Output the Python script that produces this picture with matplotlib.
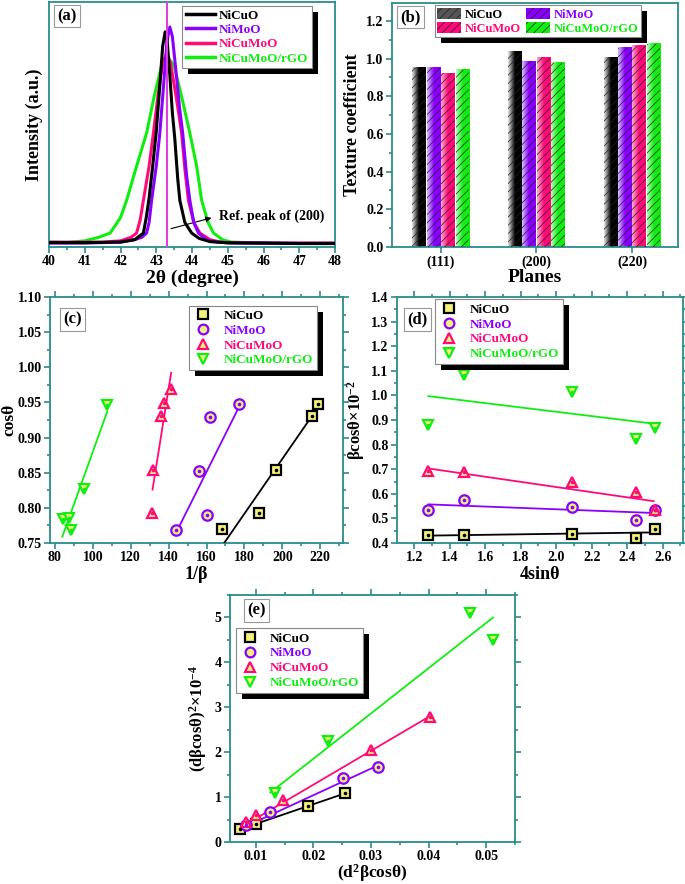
import numpy as np
import matplotlib
matplotlib.use("Agg")
import matplotlib.pyplot as plt
from matplotlib.patches import Rectangle, Patch
from matplotlib.lines import Line2D
from matplotlib.colors import LinearSegmentedColormap
from matplotlib.ticker import MultipleLocator

plt.rcParams['font.family'] = ['Liberation Serif', 'DejaVu Serif']
plt.rcParams['font.weight'] = 'bold'
plt.rcParams['axes.labelweight'] = 'bold'
plt.rcParams['mathtext.fontset'] = 'custom'
plt.rcParams['mathtext.rm'] = 'Liberation Serif:bold'
plt.rcParams['mathtext.it'] = 'Liberation Serif:bold'
plt.rcParams['mathtext.bf'] = 'Liberation Serif:bold'
plt.rcParams['hatch.linewidth'] = 0.5

# ---------------- data ----------------
names = ["NiCuO", "NiMoO", "NiCuMoO", "NiCuMoO/rGO"]
colors = ["#000000", "#8a00ff", "#ff0a78", "#10ee10"]
light_colors = ["#e8e8e8", "#d8c0ff", "#ffb0d0", "#b8ffb8"]

# (a) XRD (200) peak profiles (normalised intensity)
a_x_nicuo = [40.0, 41.0, 42.0, 42.4, 42.64, 42.72, 42.8, 42.9, 43.0, 43.1, 43.18, 43.25, 43.3, 43.38,
             43.45, 43.52, 43.6, 43.66, 43.8, 43.99, 44.2, 44.5, 45.0, 46.0, 47.0, 48.0]
a_y_nicuo = [0.018, 0.018, 0.02, 0.03, 0.057, 0.12, 0.2, 0.33, 0.47, 0.66, 0.82, 0.878, 0.85, 0.70,
             0.55, 0.44, 0.28, 0.19, 0.10, 0.057, 0.035, 0.022, 0.017, 0.016, 0.014, 0.014]
a_x_nimoo = [40.0, 41.0, 42.0, 42.4, 42.6, 42.73, 42.8, 42.87, 43.0, 43.1, 43.2, 43.3, 43.38, 43.45,
             43.55, 43.65, 43.74, 43.85, 43.94, 44.05, 44.18, 44.4, 44.7, 45.0, 46.0, 47.0, 48.0]
a_y_nimoo = [0.016, 0.016, 0.02, 0.03, 0.04, 0.057, 0.10, 0.19, 0.33, 0.465, 0.65, 0.84, 0.898, 0.86,
             0.72, 0.57, 0.465, 0.29, 0.19, 0.10, 0.057, 0.03, 0.02, 0.017, 0.016, 0.015, 0.015]
a_x_nicumoo = [40.0, 41.0, 41.5, 42.0, 42.3, 42.45, 42.55, 42.64, 42.8, 42.92, 43.05, 43.18, 43.29,
               43.4, 43.55, 43.71, 43.8, 43.9, 44.05, 44.22, 44.5, 44.8, 45.2, 46.0, 47.0, 48.0]
a_y_nicumoo = [0.02, 0.02, 0.02, 0.025, 0.04, 0.057, 0.11, 0.19, 0.33, 0.465, 0.62, 0.75, 0.79,
               0.75, 0.62, 0.465, 0.32, 0.19, 0.10, 0.057, 0.03, 0.02, 0.017, 0.016, 0.016, 0.016]
a_x_rgo = [40.0, 40.5, 41.0, 41.4, 41.71, 42.0, 42.17, 42.45, 42.73, 42.95, 43.15, 43.32, 43.5,
           43.7, 43.94, 44.13, 44.27, 44.45, 44.6, 44.85, 45.1, 46.0, 47.0, 48.0]
a_y_rgo = [0.02, 0.018, 0.025, 0.04, 0.057, 0.12, 0.19, 0.33, 0.465, 0.62, 0.74, 0.776, 0.74,
           0.62, 0.465, 0.33, 0.19, 0.10, 0.057, 0.03, 0.02, 0.016, 0.015, 0.016]
ref_peak = 43.3

# (b) texture coefficients
planes = ["(111)", "(200)", "(220)"]
tc_nicuo = [0.952, 1.035, 1.007]
tc_nimoo = [0.952, 0.987, 1.057]
tc_nicumoo = [0.922, 1.007, 1.067]
tc_rgo = [0.942, 0.977, 1.080]

# (c) cos(theta) vs 1/beta
c_x = [[168, 187.5, 196.5, 215.5, 219], [144, 160, 156, 162, 177],
       [131, 132, 136, 137.5, 141], [84, 87.5, 88.5, 95.5, 107.5]]
c_y = [[0.770, 0.792, 0.854, 0.930, 0.948], [0.769, 0.790, 0.853, 0.929, 0.948],
       [0.792, 0.854, 0.930, 0.949, 0.969], [0.784, 0.786, 0.769, 0.827, 0.947]]
c_fit_x = [[169.3, 218.0], [145.1, 177.4], [131.5, 141.3], [83.9, 107.6]]
c_fit_y = [[0.750, 0.940], [0.771, 0.945], [0.826, 0.992], [0.759, 0.937]]

# (d) beta cos(theta) vs 4 sin(theta)
d_x = [1.28, 1.48, 2.09, 2.45, 2.555]
d_y = [[0.432, 0.432, 0.435, 0.422, 0.458], [0.535, 0.573, 0.548, 0.495, 0.535],
       [0.693, 0.688, 0.650, 0.607, 0.535], [0.878, 1.082, 1.013, 0.823, 0.868]]
d_fit_x = [1.28, 2.55]
d_fit_y = [[0.430, 0.443], [0.557, 0.522], [0.703, 0.570], [0.997, 0.885]]

# (e) size-strain plot
e_x = [[0.0072, 0.0100, 0.0191, 0.0254], [0.0083, 0.0124, 0.0252, 0.0312],
       [0.0083, 0.0100, 0.0147, 0.0300, 0.0402], [0.0133, 0.0225, 0.0472, 0.0512]]
e_y = [[0.30, 0.41, 0.81, 1.10], [0.37, 0.665, 1.435, 1.66],
       [0.44, 0.60, 0.93, 2.05, 2.78], [1.08, 2.24, 5.11, 4.50]]
e_fit_x = [[0.0072, 0.0254], [0.0076, 0.0311], [0.0073, 0.0402], [0.0125, 0.0512]]
e_fit_y = [[0.28, 1.08], [0.31, 1.70], [0.32, 2.80], [1.10, 5.00]]

# ---------------- style helpers ----------------
TEAL = "#2a8c8c"
MFACE = "#f2f27a"
markers = ["s", "o", "^", "v"]

W, H = 685, 884
fig = plt.figure(figsize=(W / 100, H / 100), dpi=100)


def ax_px(l, r, t, b):
    return fig.add_axes([l / W, 1 - b / H, (r - l) / W, (b - t) / H])


def style(ax, top_right=False):
    for s in ax.spines.values():
        s.set_color(TEAL)
        s.set_linewidth(1.3)
    ax.tick_params(which='both', direction='out', color=TEAL, width=1.2,
                   labelsize=10, pad=2)
    ax.tick_params(which='major', length=4)
    ax.tick_params(which='minor', length=2.5)
    if top_right:
        ax.tick_params(which='both', right=True, top=True)
    for lab in ax.get_xticklabels() + ax.get_yticklabels():
        lab.set_fontweight('bold')


def panel_label(ax, txt, x=0.03, y=0.955):
    ax.text(x, y, txt, transform=ax.transAxes, fontsize=12, fontweight='bold',
            va='top', ha='left', zorder=6,
            bbox=dict(boxstyle='square,pad=0.2', fc='white', ec='#999999', lw=0.8))


legends = []


def make_legend(ax, handles, labels, size=9.5, **kw):
    leg = ax.legend(handles, labels, frameon=True, fancybox=False, framealpha=1,
                    edgecolor='#888888', prop=dict(weight='bold', size=size), **kw)
    leg.get_frame().set_linewidth(0.8)
    for t, c in zip(leg.get_texts(), colors):
        t.set_color(c)
    leg.set_zorder(8)
    legends.append((ax, leg))
    return leg


def mark_handle(i):
    return Line2D([], [], ls='none', marker=markers[i], ms=7, mfc=MFACE, mec=colors[i], mew=1.6)


def scatter_series(ax, x, y, i):
    ax.plot(x, y, ls='none', marker=markers[i], ms=7.5, mfc=MFACE, mec=colors[i],
            mew=1.6, zorder=4, clip_on=False)
    ax.plot(x, y, ls='none', marker='o', ms=1.6, color=colors[i], zorder=5, clip_on=False)


# ---------------- (a) ----------------
axa = ax_px(49, 335, 2, 247)
a_xs = [a_x_nicuo, a_x_nimoo, a_x_nicumoo, a_x_rgo]
a_ys = [a_y_nicuo, a_y_nimoo, a_y_nicumoo, a_y_rgo]
order = [3, 2, 1, 0]
for i in order:
    axa.plot(a_xs[i], a_ys[i], color=colors[i], lw=2.2, zorder=3 + (3 - i) * 0.1,
             solid_joinstyle='round')
axa.axvline(ref_peak, color="#e040e0", lw=1.5, zorder=4)
axa.set_xlim(40, 48)
axa.set_ylim(0, 1)
axa.xaxis.set_major_locator(MultipleLocator(1))
axa.xaxis.set_minor_locator(MultipleLocator(0.5))
axa.set_yticks([])
style(axa)
axa.set_xlabel("2θ (degree)", fontsize=14, labelpad=1)
axa.set_ylabel("Intensity (a.u.)", fontsize=13, labelpad=4)
axa.annotate("Ref. peak of (200)", xy=(44.62, 0.122), xytext=(44.75, 0.124),
             fontsize=10, fontweight='bold', va='center', ha='left')
axa.annotate("", xy=(44.62, 0.122), xytext=(43.34, 0.072),
             arrowprops=dict(arrowstyle='-|>', color='black', lw=0.8, mutation_scale=8))
panel_label(axa, "(a)", x=0.03, y=0.975)
make_legend(axa, [Line2D([], [], color=colors[i], lw=2.5) for i in range(4)], names,
            loc='upper right', bbox_to_anchor=(0.92, 0.985), borderaxespad=0,
            handlelength=2.2, handletextpad=0.3, labelspacing=0.15, borderpad=0.3)

# ---------------- (b) ----------------
axb = ax_px(392, 678, 3, 247)
tcs = [tc_nicuo, tc_nimoo, tc_nicumoo, tc_rgo]
xpos = np.arange(len(planes))
bw = 0.142
step = 0.15
grad = np.linspace(0, 1, 64).reshape(1, -1)
for i in range(4):
    cmap = LinearSegmentedColormap.from_list("g%d" % i, [light_colors[i], colors[i], colors[i]])
    for j, h in enumerate(tcs[i]):
        x0 = xpos[j] + (i - 1.5) * step - bw / 2
        axb.imshow(grad, extent=(x0, x0 + bw, 0, h), aspect='auto', cmap=cmap,
                   interpolation='bilinear', zorder=2)
        rect = Rectangle((x0, 0), bw, h, fc='none', ec='#222222', lw=0, hatch='////', zorder=3)
        axb.add_patch(rect)
axb.set_xlim(-0.51, 2.48)
axb.set_ylim(0, 1.295)
axb.set_xticks(xpos)
axb.set_xticklabels(planes)
axb.yaxis.set_major_locator(MultipleLocator(0.2))
axb.yaxis.set_minor_locator(MultipleLocator(0.1))
style(axb)
axb.tick_params(axis='x', which='minor', bottom=False)
axb.set_xlabel("Planes", fontsize=14, labelpad=0)
axb.set_ylabel("Texture coefficient", fontsize=13, labelpad=4)
panel_label(axb, "(b)", x=0.03, y=0.975)
bh = [Patch(facecolor=colors[i] if i else '#555555', edgecolor='#222222', hatch='////', lw=0)
      for i in range(4)]
make_legend(axb, [bh[0], bh[2], bh[1], bh[3]], [names[0], names[2], names[1], names[3]],
            size=9, loc='upper right', bbox_to_anchor=(0.87, 0.99), borderaxespad=0, ncol=2,
            handlelength=1.9, handleheight=1.0, handletextpad=0.3, labelspacing=0.1,
            columnspacing=0.4, borderpad=0.2)
lb = legends[-1][1]
for t, c in zip(lb.get_texts(), [colors[0], colors[2], colors[1], colors[3]]):
    t.set_color(c)

# ---------------- (c) ----------------
axc = ax_px(50, 343, 297, 543)
for i in range(4):
    axc.plot(c_fit_x[i], c_fit_y[i], color=colors[i], lw=1.3, zorder=3)
    scatter_series(axc, c_x[i], c_y[i], i)
axc.set_xlim(77.4, 232)
axc.set_ylim(0.75, 1.10)
axc.xaxis.set_major_locator(MultipleLocator(20))
axc.xaxis.set_minor_locator(MultipleLocator(10))
axc.yaxis.set_major_locator(MultipleLocator(0.05))
axc.yaxis.set_minor_locator(MultipleLocator(0.025))
axc.yaxis.set_major_formatter(matplotlib.ticker.FormatStrFormatter('%.2f'))
style(axc, top_right=True)
axc.set_xlabel("1/β", fontsize=13, labelpad=1)
axc.set_ylabel("cosθ", fontsize=12.5, labelpad=0)
panel_label(axc, "(c)", x=0.045, y=0.94)
make_legend(axc, [mark_handle(i) for i in range(4)], names, loc='upper right',
            bbox_to_anchor=(0.91, 0.965), borderaxespad=0, handlelength=1.5,
            handletextpad=0.8, labelspacing=0.2, borderpad=0.3)

# ---------------- (d) ----------------
axd = ax_px(397, 683, 297, 543)
for i in range(4):
    axd.plot(d_fit_x, d_fit_y[i], color=colors[i], lw=1.3, zorder=3)
    scatter_series(axd, d_x, d_y[i], i)
axd.set_xlim(1.103, 2.715)
axd.set_ylim(0.4, 1.4)
axd.xaxis.set_major_locator(MultipleLocator(0.2))
axd.xaxis.set_minor_locator(MultipleLocator(0.1))
axd.yaxis.set_major_locator(MultipleLocator(0.1))
axd.yaxis.set_minor_locator(MultipleLocator(0.05))
style(axd, top_right=True)
axd.set_xlabel("4sinθ", fontsize=13, labelpad=1)
axd.set_ylabel(r"βcosθ×10$^{-2}$", fontsize=12, labelpad=3)
panel_label(axd, "(d)", x=0.035, y=0.94)
make_legend(axd, [mark_handle(i) for i in range(4)], names, loc='upper left',
            bbox_to_anchor=(0.133, 0.99), borderaxespad=0, handlelength=1.5,
            handletextpad=0.8, labelspacing=0.2, borderpad=0.3)

# ---------------- (e) ----------------
axe = ax_px(230, 515, 595, 842)
for i in range(4):
    axe.plot(e_fit_x[i], e_fit_y[i], color=colors[i], lw=1.3, zorder=3)
    scatter_series(axe, e_x[i], e_y[i], i)
axe.set_xlim(0.0055, 0.055)
axe.set_ylim(0, 5.5)
axe.xaxis.set_major_locator(MultipleLocator(0.01))
axe.xaxis.set_minor_locator(MultipleLocator(0.005))
axe.yaxis.set_major_locator(MultipleLocator(1))
axe.yaxis.set_minor_locator(MultipleLocator(0.5))
axe.xaxis.set_major_formatter(matplotlib.ticker.FormatStrFormatter('%.2f'))
style(axe, top_right=True)
axe.set_xlabel(r"(d$^{2}$βcosθ)", fontsize=12.5, labelpad=-1)
axe.set_ylabel(r"(dβcosθ)$^{2}$×10$^{-4}$", fontsize=12, labelpad=4)
panel_label(axe, "(e)", x=0.06, y=0.97)
make_legend(axe, [mark_handle(i) for i in range(4)], names, loc='upper left',
            bbox_to_anchor=(0.02, 0.865), borderaxespad=0, handlelength=1.5,
            handletextpad=0.8, labelspacing=0.2, borderpad=0.3)

# ---------------- legend shadows ----------------
fig.canvas.draw()
r = fig.canvas.get_renderer()
for ax, leg in legends:
    bb = leg.get_frame().get_window_extent(r)
    sh = Rectangle((bb.x0 + 6, bb.y0 - 6), bb.width, bb.height, transform=None,
                   fc='black', ec='none', zorder=7.9, clip_on=False)
    ax.add_artist(sh)

fig.savefig("out.png", dpi=100)
